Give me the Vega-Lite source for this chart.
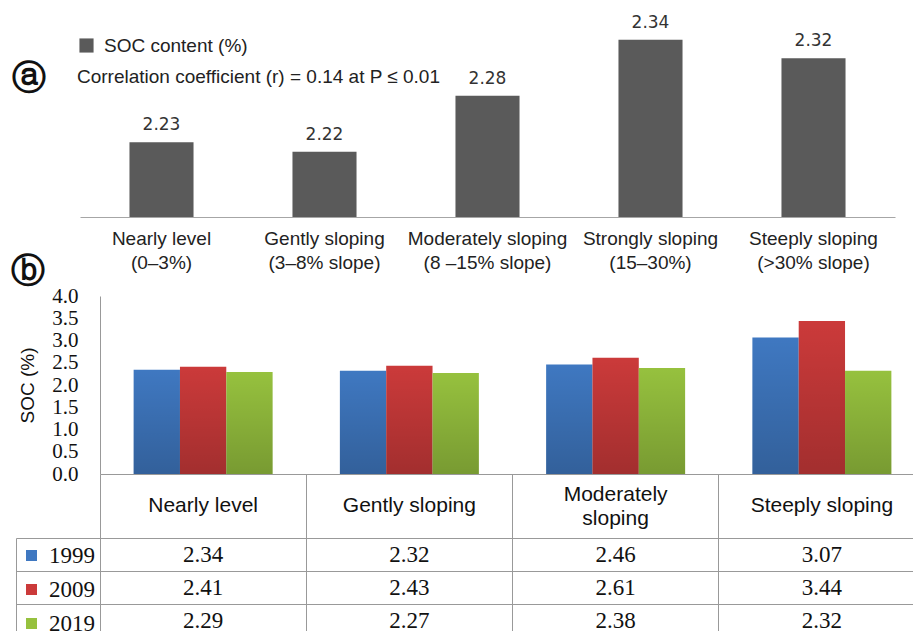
{
  "$schema": "https://vega.github.io/schema/vega-lite/v6.json",
  "padding": {"left": 10, "top": 13, "right": 0, "bottom": 0},
  "background": "white",
  "config": {"view": {"stroke": null}, "font": "Liberation Sans"},
  "datasets": {
    "by_slope_class": [
      {"slope": "Nearly level (0–3%)", "soc": 2.23},
      {"slope": "Gently sloping (3–8% slope)", "soc": 2.22},
      {"slope": "Moderately sloping (8 –15% slope)", "soc": 2.28},
      {"slope": "Strongly sloping (15–30%)", "soc": 2.34},
      {"slope": "Steeply sloping (>30% slope)", "soc": 2.32}
    ],
    "by_year": [
      {"slope": "Nearly level", "year": "1999", "soc": 2.34},
      {"slope": "Gently sloping", "year": "1999", "soc": 2.32},
      {"slope": "Moderately sloping", "year": "1999", "soc": 2.46},
      {"slope": "Steeply sloping", "year": "1999", "soc": 3.07},
      {"slope": "Nearly level", "year": "2009", "soc": 2.41},
      {"slope": "Gently sloping", "year": "2009", "soc": 2.43},
      {"slope": "Moderately sloping", "year": "2009", "soc": 2.61},
      {"slope": "Steeply sloping", "year": "2009", "soc": 3.44},
      {"slope": "Nearly level", "year": "2019", "soc": 2.29},
      {"slope": "Gently sloping", "year": "2019", "soc": 2.27},
      {"slope": "Moderately sloping", "year": "2019", "soc": 2.38},
      {"slope": "Steeply sloping", "year": "2019", "soc": 2.32}
    ]
  },
  "bounds": "flush",
  "spacing": 79,
  "resolve": {
    "scale": {"x": "independent", "y": "independent", "color": "independent"},
    "legend": {"color": "independent"}
  },
  "vconcat": [
    {
      "width": 795,
      "height": 196,
      "data": {"name": "by_slope_class"},
      "encoding": {
        "x": {
          "field": "slope",
          "type": "nominal",
          "sort": null,
          "scale": {"range": [-20, 795], "paddingInner": 0.607, "paddingOuter": 0.3035},
          "axis": {
            "title": "ⓑ",
            "titleX": -73,
            "titleY": 54,
            "titleAngle": 0,
            "titleAlign": "center",
            "titleBaseline": "middle",
            "titleFont": "DejaVu Serif",
            "titleFontSize": 34,
            "titleFontWeight": "bold",
            "titleColor": "#111",
            "labelAngle": 0,
            "labelExpr": "[substring(datum.label, 0, indexof(datum.label, ' (')), substring(datum.label, indexof(datum.label, ' (') + 1)]",
            "labelFont": "Liberation Sans",
            "labelFontSize": 19,
            "labelColor": "#222",
            "labelPadding": 12,
            "labelLineHeight": 24,
            "labelLimit": 260,
            "ticks": false,
            "domain": true,
            "domainColor": "#a6a6a6",
            "domainWidth": 1.2,
            "grid": false
          }
        },
        "y": {
          "field": "soc",
          "type": "quantitative",
          "scale": {"domain": [2.15, 2.36], "zero": false, "nice": false},
          "axis": {
            "title": "ⓐ",
            "titleX": -72,
            "titleY": 57,
            "titleAngle": 0,
            "titleAlign": "center",
            "titleBaseline": "middle",
            "titleFont": "DejaVu Serif",
            "titleFontSize": 34,
            "titleFontWeight": "bold",
            "titleColor": "#111",
            "labels": false,
            "ticks": false,
            "domain": false,
            "grid": false
          }
        }
      },
      "layer": [
        {
          "mark": {"type": "bar"},
          "encoding": {
            "y2": {"datum": 2.15},
            "color": {
              "datum": "SOC content (%)",
              "scale": {"range": ["#5a5a5a"]},
              "legend": {
                "orient": "none",
                "legendX": -23,
                "legendY": 15,
                "padding": 0,
                "symbolType": "square",
                "symbolSize": 200,
                "symbolStrokeWidth": 0,
                "labelFont": "Liberation Sans",
                "labelFontSize": 19,
                "labelColor": "#222",
                "labelOffset": 8,
                "title": "Correlation coefficient (r) = 0.14 at P ≤ 0.01",
                "titleOrient": "bottom",
                "titleAnchor": "start",
                "titleFont": "Liberation Sans",
                "titleFontSize": 19,
                "titleFontWeight": "normal",
                "titleColor": "#222",
                "titlePadding": 12,
                "titleLimit": 600
              }
            }
          }
        },
        {
          "mark": {
            "type": "text",
            "font": "DejaVu Sans",
            "fontSize": 17,
            "color": "#333",
            "baseline": "alphabetic",
            "dy": -12
          },
          "encoding": {"text": {"field": "soc", "type": "quantitative", "format": ".2f"}}
        }
      ]
    },
    {
      "bounds": "flush",
      "spacing": 64,
      "resolve": {"scale": {"x": "independent", "y": "independent"}},
      "vconcat": [
        {
          "width": 813,
          "height": 178,
          "data": {"name": "by_year"},
          "encoding": {
            "x": {
              "field": "slope",
              "type": "nominal",
              "sort": null,
              "scale": {"range": [0, 825], "paddingInner": 0, "paddingOuter": 0},
              "axis": {
                "title": null,
                "domain": false,
                "ticks": true,
                "tickSize": 64,
                "tickColor": "#999",
                "tickWidth": 1,
                "bandPosition": 0,
                "labelPadding": {"condition": {"test": "datum.value === 'Moderately sloping'", "value": -44}, "value": -33},
                "labelBaseline": "middle",
                "labelAngle": 0,
                "labelFont": "Liberation Sans",
                "labelFontSize": 21,
                "labelColor": "#111",
                "labelLineHeight": 24,
                "labelLimit": 200,
                "labelExpr": "datum.label == 'Moderately sloping' ? ['Moderately', 'sloping'] : datum.label",
                "grid": false
              }
            },
            "xOffset": {
              "field": "year",
              "type": "nominal",
              "scale": {"domain": ["1999", "2009", "2019"], "paddingOuter": 0.726, "paddingInner": 0}
            },
            "y": {
              "field": "soc",
              "type": "quantitative",
              "scale": {"domain": [0, 4], "nice": false},
              "axis": {
                "title": "SOC (%)",
                "titleFont": "Liberation Sans",
                "titleFontSize": 19,
                "titleFontWeight": "normal",
                "titleColor": "#111",
                "titlePadding": 14,
                "values": [0, 0.5, 1, 1.5, 2, 2.5, 3, 3.5, 4],
                "format": ".1f",
                "labelFont": "Liberation Serif",
                "labelFontSize": 21,
                "labelColor": "#111",
                "labelPadding": 22,
                "labelOverlap": false,
                "ticks": false,
                "domain": true,
                "domainColor": "#999",
                "grid": true,
                "gridColor": "#999",
                "gridOpacity": {"condition": {"test": "datum.value === 0", "value": 1}, "value": 0}
              }
            }
          },
          "layer": [
            {
              "mark": {"type": "bar"},
              "encoding": {
                "color": {
                  "field": "year",
                  "type": "nominal",
                  "scale": {"domain": ["1999", "2009", "2019"], "range": ["#3f78c1", "#cb3a3a", "#96c13e"]},
                  "legend": {
                    "orient": "none",
                    "legendX": -80,
                    "legendY": 248,
                    "padding": 0,
                    "title": null,
                    "symbolType": "square",
                    "symbolSize": 121,
                    "symbolStrokeWidth": 0,
                    "labelFont": "Liberation Serif",
                    "labelFontSize": 23,
                    "labelColor": "#111",
                    "labelOffset": 6,
                    "rowPadding": 10
                  }
                }
              }
            },
            {
              "mark": {
                "type": "bar",
                "color": {
                  "gradient": "linear",
                  "x1": 0, "y1": 0, "x2": 0, "y2": 1,
                  "stops": [
                    {"offset": 0, "color": "rgba(0,0,0,0)"},
                    {"offset": 1, "color": "rgba(0,0,0,0.2)"}
                  ]
                }
              },
              "encoding": {}
            }
          ]
        },
        {
          "width": 813,
          "height": 93,
          "data": {"name": "by_year"},
          "mark": {"type": "text", "font": "Liberation Serif", "fontSize": 23, "color": "#111"},
          "encoding": {
            "x": {
              "field": "slope",
              "type": "nominal",
              "sort": null,
              "scale": {"type": "band", "range": [0, 825], "paddingInner": 0, "paddingOuter": 0},
              "axis": {
                "title": null,
                "labels": false,
                "ticks": false,
                "domain": false,
                "grid": true,
                "gridColor": "#999",
                "bandPosition": 0
              }
            },
            "y": {
              "field": "year",
              "type": "nominal",
              "sort": null,
              "scale": {"type": "band", "range": [0, 99], "paddingInner": 0, "paddingOuter": 0},
              "axis": {
                "title": null,
                "labels": false,
                "domain": true,
                "domainColor": "#999",
                "offset": 84,
                "ticks": true,
                "tickSize": -84,
                "tickColor": "#999",
                "bandPosition": 0,
                "grid": true,
                "gridColor": "#999"
              }
            },
            "text": {"field": "soc", "type": "quantitative", "format": ".2f"}
          }
        }
      ]
    }
  ]
}
